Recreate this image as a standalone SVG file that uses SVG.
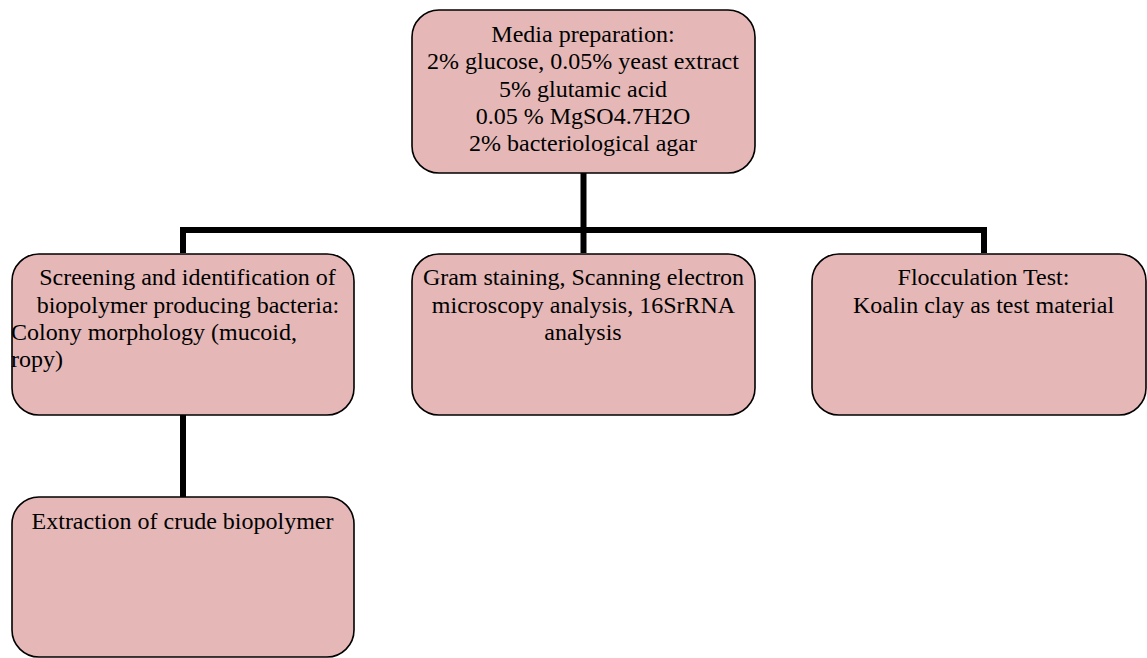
<svg xmlns="http://www.w3.org/2000/svg" width="1147" height="658" viewBox="0 0 1147 658">
<style>
.box{fill:#E5B8B7;stroke:#000;stroke-width:1.6}
.t{font-family:"Liberation Serif","Times New Roman",serif;font-size:24px;fill:#000}
.c{text-anchor:middle}
.conn{fill:none;stroke:#000;stroke-width:6;stroke-linejoin:miter;stroke-linecap:butt}
</style>
<rect width="1147" height="658" fill="#fff"/>
<g id="connectors">
<path class="conn" d="M583.5,173 V230"/>
<path class="conn" d="M183,253 V230 H984 V253"/>
<path class="conn" d="M583.5,230 V253"/>
<path class="conn" d="M183,415 V497"/>
</g>
<g id="media">
<rect class="box" x="412" y="10" width="343" height="163" rx="27" ry="27"/>
<text class="t c" x="583" y="41.5">Media preparation:</text>
<text class="t c" x="583" y="69">2% glucose, 0.05% yeast extract</text>
<text class="t c" x="583" y="96.5">5% glutamic acid</text>
<text class="t c" x="583" y="123.5">0.05 % MgSO4.7H2O</text>
<text class="t c" x="583" y="151">2% bacteriological agar</text>
</g>
<g id="screening">
<rect class="box" x="12" y="254" width="342" height="161" rx="27" ry="27"/>
<text class="t c" x="187.5" y="285">Screening and identification of</text>
<text class="t c" x="188" y="312.5">biopolymer producing bacteria:</text>
<text class="t" x="11" y="340">Colony morphology (mucoid,</text>
<text class="t" x="11" y="367">ropy)</text>
</g>
<g id="gram">
<rect class="box" x="412" y="254" width="343" height="161" rx="27" ry="27"/>
<text class="t c" x="583.5" y="285">Gram staining, Scanning electron</text>
<text class="t c" x="583.5" y="312.5">microscopy analysis, 16SrRNA</text>
<text class="t c" x="583" y="340">analysis</text>
</g>
<g id="flocculation">
<rect class="box" x="812" y="254" width="334" height="161" rx="27" ry="27"/>
<text class="t c" x="983.5" y="285">Flocculation Test:</text>
<text class="t c" x="983.5" y="312.5">Koalin clay as test material</text>
</g>
<g id="extraction">
<rect class="box" x="12" y="497" width="342" height="160" rx="27" ry="27"/>
<text class="t c" x="182.5" y="528.5">Extraction of crude biopolymer</text>
</g>
</svg>
